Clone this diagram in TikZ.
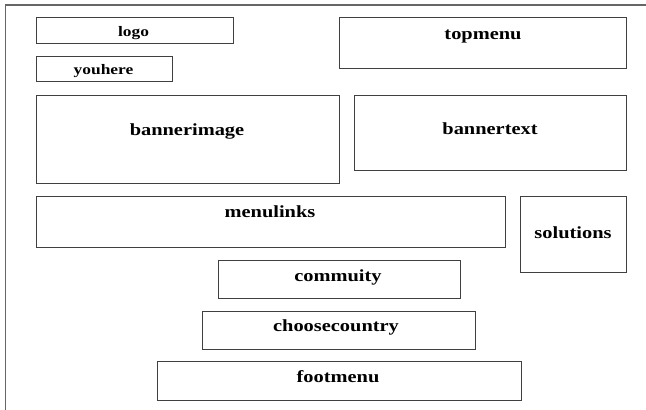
\documentclass[tikz,border=0pt]{standalone}
\usepackage{fontspec}
\setmainfont{Liberation Serif}[FakeStretch=1.2]
\begin{document}
\begin{tikzpicture}[x=1pt,y=-1pt,
  box/.style={draw=black!75, line width=0.9pt},
  frame/.style={draw=black!60, line width=1.1pt},
  big/.style={font=\fontsize{17}{20}\selectfont\bfseries, anchor=base, inner sep=0pt},
  small/.style={font=\fontsize{14.5}{17}\selectfont\bfseries, anchor=base, inner sep=0pt}]
\useasboundingbox (0,0) rectangle (646,410);
\coordinate (ftop) at (646,5);
\coordinate (fcorner) at (5.5,5);
\coordinate (fbot) at (5.5,410);
\draw[frame] (ftop) -- (fcorner) -- (fbot);
\draw[box] (36,17) rectangle (233,43);
\draw[box] (36,56) rectangle (172,81);
\draw[box] (339,17) rectangle (626,68);
\draw[box] (36,95) rectangle (339,183);
\draw[box] (354,95) rectangle (626,170);
\draw[box] (36,196) rectangle (505,247);
\draw[box] (520,196) rectangle (626,272);
\draw[box] (218,260) rectangle (460,298);
\draw[box] (202,311) rectangle (475,349);
\draw[box] (157,361) rectangle (521,400);
\node[small] (logo) at (133.5,36) {logo};
\node[small] (youhere) at (103.5,74) {youhere};
\node[big] (topmenu) at (483,39) {topmenu};
\node[big] (bannerimage) at (187,135) {bannerimage};
\node[big] (bannertext) at (490,134) {bannertext};
\node[big] (menulinks) at (270,217) {menulinks};
\node[big] (solutions) at (573,238) {solutions};
\node[big] (commuity) at (338,281) {commuity};
\node[big] (choosecountry) at (336,331) {choosecountry};
\node[big] (footmenu) at (338,382) {footmenu};
\end{tikzpicture}
\end{document}
